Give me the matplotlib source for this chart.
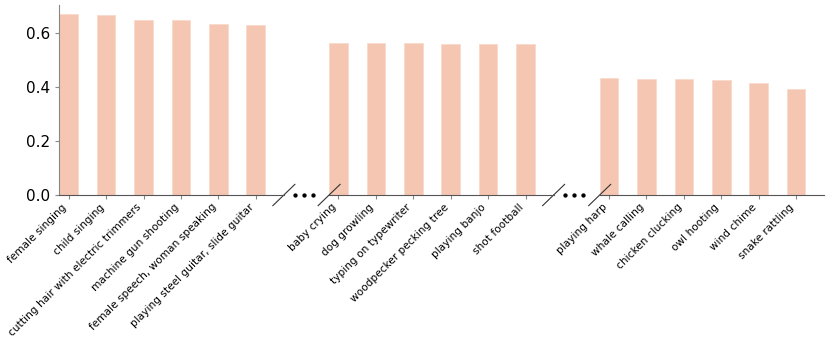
import matplotlib as mpl
mpl.use('Agg')
import matplotlib.pyplot as plt
from matplotlib.lines import Line2D

# three groups of classes, shown on a broken x axis
labels_top = ['female singing', 'child singing',
              'cutting hair with electric trimmers', 'machine gun shooting',
              'female speech, woman speaking',
              'playing steel guitar, slide guitar']
values_top = [0.670, 0.665, 0.648, 0.647, 0.633, 0.630]

labels_mid = ['baby crying', 'dog growling', 'typing on typewriter',
              'woodpecker pecking tree', 'playing banjo', 'shot football']
values_mid = [0.563, 0.562, 0.562, 0.560, 0.560, 0.559]

labels_low = ['playing harp', 'whale calling', 'chicken clucking',
              'owl hooting', 'wind chime', 'snake rattling']
values_low = [0.433, 0.430, 0.429, 0.427, 0.414, 0.393]

groups = [(labels_top, values_top), (labels_mid, values_mid),
          (labels_low, values_low)]

bar_color = '#f5c7b3'
edge_color = '#f9dacd'

fig = plt.figure(figsize=(8.3, 3.46), dpi=100)
lefts = [0.0715, 0.3965, 0.7225]
width = 0.2705
bottom, height = 0.4364, 0.5491
ymax = max(values_top) * 1.05

axes = []
for i, (labels, values) in enumerate(groups):
    ax = fig.add_axes([lefts[i], bottom, width, height])
    x = list(range(len(values)))
    ax.bar(x, values, width=0.5, color=bar_color, edgecolor=edge_color,
           linewidth=0.6)
    ax.set_xlim(-0.25, 5.75)
    ax.set_ylim(0, ymax)
    ax.set_xticks(x)
    ax.set_xticklabels(labels, rotation=45, ha='right', fontsize=7.6)
    ax.tick_params(axis='x', length=3, color='#888888', pad=2)
    ax.tick_params(axis='y', length=3, color='#888888', labelsize=11)
    for side in ('top', 'right'):
        ax.spines[side].set_visible(False)
    ax.spines['bottom'].set_color('#555555')
    ax.spines['left'].set_color('#888888')
    if i > 0:
        ax.spines['left'].set_visible(False)
        ax.tick_params(axis='y', left=False, labelleft=False)
    ax.set_yticks([0.0, 0.2, 0.4, 0.6])
    axes.append(ax)

# break markers
dx, dy = 0.049, 0.056
kw = dict(color='#333333', linewidth=0.8, clip_on=False)
for i, ax in enumerate(axes):
    if i < len(axes) - 1:
        ax.plot([1 - dx, 1 + dx], [-dy, dy], transform=ax.transAxes, **kw)
    if i > 0:
        ax.plot([-dx, dx], [-dy, dy], transform=ax.transAxes, **kw)

for i in range(len(axes) - 1):
    r = lefts[i] + width
    l = lefts[i + 1]
    mid = (r + l) / 2 - 0.003
    xs = [mid - 0.0108, mid, mid + 0.0108]
    fig.add_artist(Line2D(xs, [bottom] * 3, transform=fig.transFigure,
                          linestyle='none', marker='o', markersize=2.1,
                          color='black'))

plt.savefig('out.png', dpi=100)
